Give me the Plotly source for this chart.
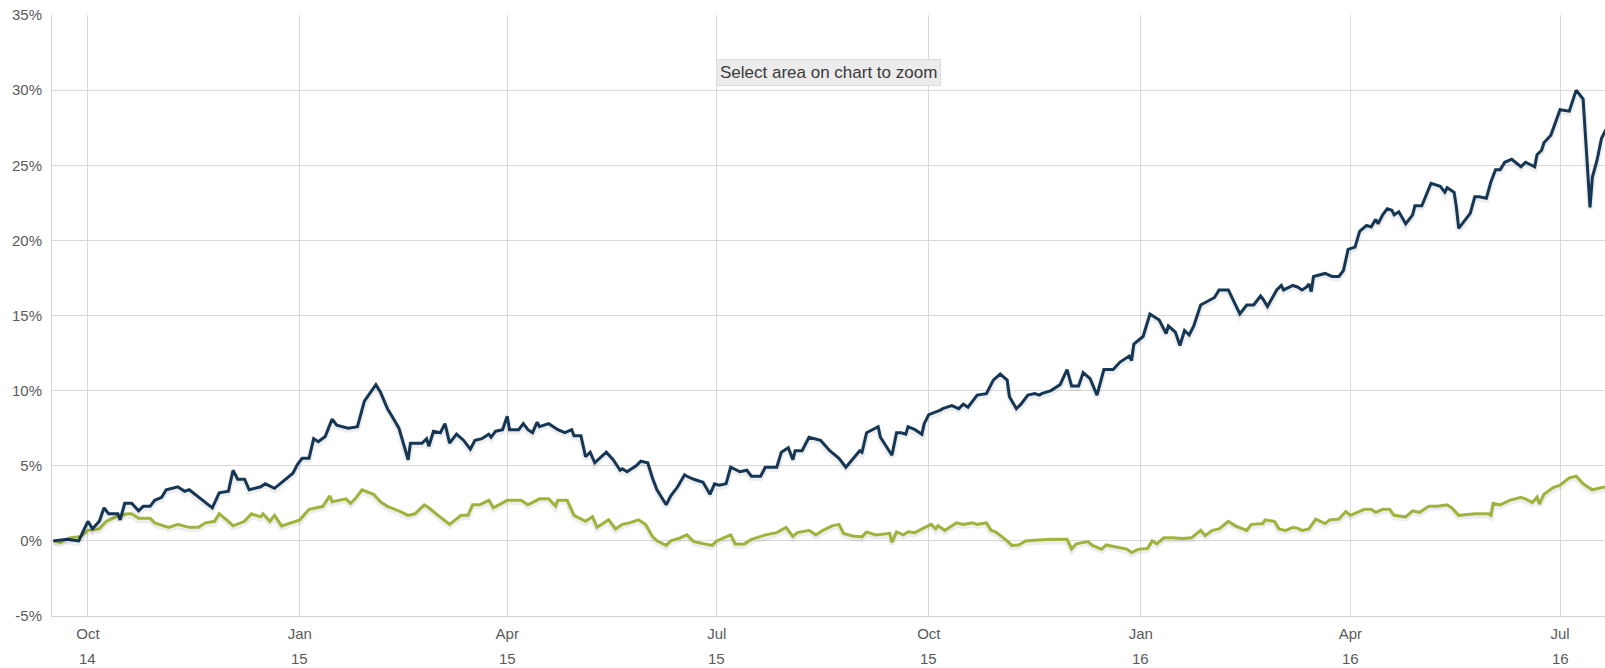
import plotly.graph_objects as go

# ---------------- data ----------------
navy_dates = [
    "2014-09-16", "2014-09-22", "2014-09-27", "2014-10-01", "2014-10-03", "2014-10-06", "2014-10-08",
    "2014-10-10", "2014-10-14", "2014-10-15", "2014-10-17", "2014-10-20", "2014-10-23", "2014-10-25",
    "2014-10-28", "2014-10-30", "2014-11-02", "2014-11-04", "2014-11-09", "2014-11-12", "2014-11-14",
    "2014-11-18", "2014-11-24", "2014-11-27", "2014-12-01", "2014-12-03", "2014-12-05", "2014-12-08",
    "2014-12-10", "2014-12-15", "2014-12-17", "2014-12-21", "2014-12-25", "2014-12-29", "2014-12-31",
    "2015-01-02", "2015-01-05", "2015-01-07", "2015-01-09", "2015-01-12", "2015-01-15", "2015-01-17",
    "2015-01-22", "2015-01-26", "2015-01-29", "2015-02-03", "2015-02-05", "2015-02-08", "2015-02-10",
    "2015-02-13", "2015-02-17", "2015-02-18", "2015-02-23", "2015-02-25", "2015-02-26", "2015-02-28",
    "2015-03-03", "2015-03-05", "2015-03-07", "2015-03-10", "2015-03-13", "2015-03-16", "2015-03-18",
    "2015-03-21", "2015-03-24", "2015-03-25", "2015-03-27", "2015-03-30", "2015-04-01", "2015-04-02",
    "2015-04-06", "2015-04-08", "2015-04-10", "2015-04-12", "2015-04-14", "2015-04-15", "2015-04-19",
    "2015-04-23", "2015-04-26", "2015-04-29", "2015-04-30", "2015-05-03", "2015-05-05", "2015-05-07",
    "2015-05-09", "2015-05-14", "2015-05-17", "2015-05-20", "2015-05-21", "2015-05-23", "2015-05-27",
    "2015-05-29", "2015-06-01", "2015-06-03", "2015-06-05", "2015-06-09", "2015-06-11", "2015-06-14",
    "2015-06-17", "2015-06-18", "2015-06-21", "2015-06-25", "2015-06-28", "2015-06-30", "2015-07-02",
    "2015-07-05", "2015-07-07", "2015-07-11", "2015-07-14", "2015-07-16", "2015-07-20", "2015-07-22",
    "2015-07-27", "2015-07-29", "2015-08-01", "2015-08-03", "2015-08-04", "2015-08-07", "2015-08-10",
    "2015-08-15", "2015-08-19", "2015-08-23", "2015-08-26", "2015-08-30", "2015-09-01", "2015-09-02",
    "2015-09-04", "2015-09-09", "2015-09-10", "2015-09-15", "2015-09-17", "2015-09-19", "2015-09-21",
    "2015-09-22", "2015-09-25", "2015-09-28", "2015-09-29", "2015-10-01", "2015-10-05", "2015-10-06",
    "2015-10-07", "2015-10-11", "2015-10-14", "2015-10-16", "2015-10-18", "2015-10-22", "2015-10-26",
    "2015-10-29", "2015-11-01", "2015-11-04", "2015-11-05", "2015-11-08", "2015-11-10", "2015-11-13",
    "2015-11-16", "2015-11-18", "2015-11-19", "2015-11-23", "2015-11-27", "2015-11-30", "2015-12-02",
    "2015-12-05", "2015-12-07", "2015-12-10", "2015-12-13", "2015-12-16", "2015-12-20", "2015-12-23",
    "2015-12-27", "2015-12-28", "2015-12-29", "2016-01-02", "2016-01-05", "2016-01-09", "2016-01-12",
    "2016-01-13", "2016-01-16", "2016-01-18", "2016-01-20", "2016-01-22", "2016-01-24", "2016-01-27",
    "2016-02-02", "2016-02-04", "2016-02-08", "2016-02-11", "2016-02-13", "2016-02-16", "2016-02-19",
    "2016-02-22", "2016-02-23", "2016-02-25", "2016-02-29", "2016-03-02", "2016-03-03", "2016-03-07",
    "2016-03-09", "2016-03-11", "2016-03-13", "2016-03-14", "2016-03-15", "2016-03-16", "2016-03-18",
    "2016-03-21", "2016-03-24", "2016-03-27", "2016-03-29", "2016-03-31", "2016-04-03", "2016-04-05",
    "2016-04-08", "2016-04-10", "2016-04-12", "2016-04-13", "2016-04-15", "2016-04-17", "2016-04-19",
    "2016-04-20", "2016-04-22", "2016-04-25", "2016-04-28", "2016-04-29", "2016-05-02", "2016-05-06",
    "2016-05-10", "2016-05-12", "2016-05-13", "2016-05-16", "2016-05-17", "2016-05-18", "2016-05-20",
    "2016-05-23", "2016-05-25", "2016-05-27", "2016-05-30", "2016-06-01", "2016-06-03", "2016-06-05",
    "2016-06-07", "2016-06-10", "2016-06-14", "2016-06-16", "2016-06-20", "2016-06-21", "2016-06-23",
    "2016-06-24", "2016-06-27", "2016-07-01", "2016-07-05", "2016-07-08", "2016-07-11", "2016-07-14",
    "2016-07-15", "2016-07-17", "2016-07-19", "2016-07-21",
]
navy_values = [
    0.0, 0.1, 0.0, 1.3, 0.8, 1.3, 2.2,
    1.8, 1.8, 1.4, 2.5, 2.5, 2.0, 2.3,
    2.3, 2.7, 2.9, 3.4, 3.6, 3.3, 3.4,
    2.9, 2.2, 3.2, 3.3, 4.7, 4.1, 4.1,
    3.4, 3.6, 3.8, 3.5, 4.0, 4.5, 5.1,
    5.5, 5.5, 6.8, 6.6, 6.95, 8.1, 7.7,
    7.5, 7.6, 9.3, 10.4, 9.9, 8.8, 8.3,
    7.5, 5.4, 6.5, 6.5, 6.8, 6.3, 7.3,
    7.2, 7.8, 6.5, 7.1, 6.7, 6.1, 6.7,
    6.8, 7.1, 6.9, 7.3, 7.4, 8.3, 7.4,
    7.4, 7.8, 7.4, 7.2, 7.9, 7.6, 7.8,
    7.4, 7.2, 7.4, 7.0, 7.0, 5.6, 5.9,
    5.2, 5.9, 5.4, 4.7, 4.8, 4.6, 5.0,
    5.3, 5.2, 4.2, 3.4, 2.4, 3.0, 3.6,
    4.4, 4.3, 4.1, 3.9, 3.1, 3.8, 3.7,
    3.8, 4.9, 4.6, 4.7, 4.3, 4.3, 4.9,
    4.9, 5.9, 6.2, 5.4, 6.0, 6.0, 6.9,
    6.7, 6.0, 5.5, 4.9, 5.6, 6.0, 5.9,
    7.2, 7.6, 6.9, 5.7, 7.2, 7.2, 7.1,
    7.6, 7.4, 7.1, 7.8, 8.4, 8.6, 8.7,
    8.8, 9.0, 8.8, 9.1, 8.9, 9.7, 9.8,
    10.7, 11.1, 10.7, 9.6, 8.8, 9.1, 9.7,
    9.8, 9.7, 9.8, 10.0, 10.4, 11.4, 10.3,
    10.3, 11.2, 10.8, 9.7, 11.4, 11.4, 11.9,
    12.3, 12.0, 13.1, 13.6, 15.1, 14.7, 13.8,
    14.3, 13.9, 13.0, 14.0, 13.7, 14.3, 15.7,
    16.2, 16.7, 16.7, 15.8, 15.1, 15.7, 15.7,
    16.3, 16.1, 15.6, 16.7, 17.0, 16.7, 17.0,
    16.9, 16.7, 16.9, 17.1, 16.6, 17.6, 17.7,
    17.8, 17.6, 17.6, 18.0, 19.4, 19.55, 20.6,
    21.0, 20.9, 21.4, 21.1, 21.7, 22.1, 22.0,
    21.7, 21.9, 21.1, 21.7, 22.3, 22.3, 23.8,
    23.6, 23.2, 23.5, 23.2, 22.2, 20.8, 21.2,
    21.8, 22.9, 22.9, 22.8, 23.9, 24.7, 24.7,
    25.2, 25.4, 24.9, 25.2, 24.9, 25.7, 26.0,
    26.5, 27.0, 28.7, 28.6, 30.0, 29.4, 22.2,
    24.2, 25.3, 26.8, 27.4,
]

olive_dates = [
    "2014-09-16", "2014-09-19", "2014-09-23", "2014-09-28", "2014-10-01", "2014-10-06", "2014-10-09",
    "2014-10-13", "2014-10-18", "2014-10-20", "2014-10-23", "2014-10-28", "2014-10-30", "2014-11-05",
    "2014-11-09", "2014-11-14", "2014-11-18", "2014-11-21", "2014-11-25", "2014-11-27", "2014-12-01",
    "2014-12-03", "2014-12-08", "2014-12-11", "2014-12-15", "2014-12-16", "2014-12-19", "2014-12-21",
    "2014-12-24", "2014-12-28", "2015-01-01", "2015-01-05", "2015-01-08", "2015-01-11", "2015-01-14",
    "2015-01-15", "2015-01-21", "2015-01-23", "2015-01-25", "2015-01-28", "2015-02-02", "2015-02-05",
    "2015-02-08", "2015-02-13", "2015-02-17", "2015-02-20", "2015-02-24", "2015-02-26", "2015-03-02",
    "2015-03-07", "2015-03-12", "2015-03-15", "2015-03-17", "2015-03-20", "2015-03-24", "2015-03-26",
    "2015-04-01", "2015-04-07", "2015-04-10", "2015-04-15", "2015-04-19", "2015-04-22", "2015-04-23",
    "2015-04-27", "2015-04-30", "2015-05-05", "2015-05-08", "2015-05-10", "2015-05-15", "2015-05-18",
    "2015-05-21", "2015-05-24", "2015-05-28", "2015-05-31", "2015-06-03", "2015-06-05", "2015-06-09",
    "2015-06-11", "2015-06-15", "2015-06-18", "2015-06-21", "2015-06-25", "2015-06-29", "2015-07-01",
    "2015-07-07", "2015-07-09", "2015-07-13", "2015-07-16", "2015-07-22", "2015-07-27", "2015-07-31",
    "2015-08-03", "2015-08-05", "2015-08-10", "2015-08-13", "2015-08-16", "2015-08-20", "2015-08-23",
    "2015-08-25", "2015-08-29", "2015-09-02", "2015-09-04", "2015-09-08", "2015-09-14", "2015-09-15",
    "2015-09-17", "2015-09-20", "2015-09-22", "2015-09-25", "2015-09-28", "2015-10-02", "2015-10-04",
    "2015-10-05", "2015-10-08", "2015-10-13", "2015-10-16", "2015-10-20", "2015-10-22", "2015-10-26",
    "2015-10-28", "2015-10-30", "2015-11-04", "2015-11-06", "2015-11-09", "2015-11-12", "2015-11-17",
    "2015-11-23", "2015-11-30", "2015-12-02", "2015-12-04", "2015-12-09", "2015-12-11", "2015-12-15",
    "2015-12-17", "2015-12-21", "2015-12-26", "2015-12-28", "2015-12-31", "2016-01-04", "2016-01-06",
    "2016-01-08", "2016-01-11", "2016-01-15", "2016-01-19", "2016-01-23", "2016-01-27", "2016-01-29",
    "2016-02-01", "2016-02-04", "2016-02-08", "2016-02-11", "2016-02-13", "2016-02-16", "2016-02-18",
    "2016-02-23", "2016-02-24", "2016-02-28", "2016-03-01", "2016-03-04", "2016-03-07", "2016-03-09",
    "2016-03-11", "2016-03-14", "2016-03-17", "2016-03-21", "2016-03-23", "2016-03-27", "2016-03-30",
    "2016-04-01", "2016-04-07", "2016-04-10", "2016-04-12", "2016-04-15", "2016-04-18", "2016-04-20",
    "2016-04-25", "2016-04-28", "2016-05-01", "2016-05-05", "2016-05-09", "2016-05-13", "2016-05-15",
    "2016-05-18", "2016-05-25", "2016-05-31", "2016-06-01", "2016-06-02", "2016-06-05", "2016-06-09",
    "2016-06-14", "2016-06-16", "2016-06-19", "2016-06-21", "2016-06-22", "2016-06-24", "2016-06-28",
    "2016-07-01", "2016-07-05", "2016-07-08", "2016-07-11", "2016-07-15", "2016-07-19", "2016-07-21",
]
olive_values = [
    0.0, -0.1, 0.2, 0.3, 0.7, 0.8, 1.3,
    1.6, 1.8, 1.8, 1.5, 1.5, 1.2, 0.9,
    1.1, 0.9, 0.9, 1.2, 1.3, 1.8, 1.3,
    1.0, 1.3, 1.8, 1.6, 1.8, 1.3, 1.7,
    1.0, 1.2, 1.4, 2.1, 2.2, 2.3, 3.0,
    2.6, 2.8, 2.5, 2.8, 3.4, 3.1, 2.6,
    2.3, 2.0, 1.7, 1.8, 2.4, 2.2, 1.7,
    1.1, 1.7, 1.7, 2.4, 2.4, 2.7, 2.2,
    2.7, 2.7, 2.4, 2.8, 2.8, 2.3, 2.7,
    2.7, 1.7, 1.3, 1.6, 0.9, 1.4, 0.8,
    1.1, 1.2, 1.4, 1.1, 0.3, 0.0, -0.3,
    0.0, 0.2, 0.4, -0.05, -0.2, -0.3, 0.0,
    0.4, -0.2, -0.2, 0.1, 0.4, 0.55, 0.9,
    0.3, 0.55, 0.7, 0.4, 0.7, 1.0, 1.1,
    0.5, 0.33, 0.27, 0.6, 0.4, 0.5, -0.1,
    0.6, 0.4, 0.6, 0.55, 0.8, 1.1, 0.8,
    1.0, 0.7, 1.2, 1.1, 1.2, 1.1, 1.2,
    0.7, 0.6, 0.0, -0.3, -0.27, 0.0, 0.05,
    0.1, 0.1, -0.55, -0.2, -0.05, -0.3, -0.55,
    -0.27, -0.4, -0.55, -0.78, -0.55, -0.5, 0.0,
    -0.2, 0.2, 0.2, 0.15, 0.2, 0.7, 0.35,
    0.7, 0.8, 1.3, 1.0, 0.9, 0.7, 1.1,
    1.15, 1.4, 1.3, 0.8, 0.7, 0.9, 0.85,
    0.7, 0.8, 1.45, 1.15, 1.4, 1.45, 1.95,
    1.7, 2.1, 2.1, 1.9, 2.1, 2.1, 1.7,
    1.6, 2.0, 1.9, 2.3, 2.3, 2.4, 2.2,
    1.7, 1.8, 1.8, 1.7, 2.5, 2.4, 2.7,
    2.9, 2.8, 2.55, 2.9, 2.45, 3.1, 3.55,
    3.7, 4.2, 4.3, 3.8, 3.4, 3.55, 3.6,
]

tick_dates = ["2014-10-01", "2015-01-01", "2015-04-01", "2015-07-01",
              "2015-10-01", "2016-01-01", "2016-04-01", "2016-07-01"]
tick_months = ["Oct", "Jan", "Apr", "Jul", "Oct", "Jan", "Apr", "Jul"]
tick_years = ["14", "15", "15", "15", "15", "16", "16", "16"]

y_ticks = [-5, 0, 5, 10, 15, 20, 25, 30, 35]
y_tick_labels = ["-5%", "0%", "5%", "10%", "15%", "20%", "25%", "30%", "35%"]

NAVY = "#173b5c"
OLIVE = "#aac141"
FONT = "Liberation Sans, Arial, sans-serif"
LABEL = "#5a5a5a"

fig = go.Figure()

# soft drop shadows (drawn on a slightly offset overlay axis)
for xs, ys in ((olive_dates, olive_values), (navy_dates, navy_values)):
    fig.add_trace(go.Scatter(x=xs, y=ys, mode="lines", yaxis="y2",
                             line=dict(color="rgba(0,0,0,0.07)", width=6),
                             hoverinfo="skip", showlegend=False))

fig.add_trace(go.Scatter(x=olive_dates, y=olive_values, mode="lines",
                         line=dict(color=OLIVE, width=3), showlegend=False))
fig.add_trace(go.Scatter(x=navy_dates, y=navy_values, mode="lines",
                         line=dict(color=NAVY, width=3), showlegend=False))

shift = 0.12
fig.update_layout(
    width=1605, height=668,
    margin=dict(l=52, r=0, t=15, b=52),
    paper_bgcolor="white", plot_bgcolor="white",
    font=dict(family=FONT, size=15, color=LABEL),
    showlegend=False,
    xaxis=dict(
        range=["2014-09-15 10:00", "2016-07-20 12:00"],
        tickvals=tick_dates, ticktext=tick_months,
        showgrid=True, gridcolor="#d9d9d9", gridwidth=1,
        showline=True, linecolor="#d0d0d0", linewidth=1,
        ticks="", zeroline=False, ticklabelstandoff=4,
        tickfont=dict(family=FONT, size=15, color=LABEL),
    ),
    yaxis=dict(
        range=[-5, 35], tickvals=y_ticks, ticktext=y_tick_labels,
        showgrid=True, gridcolor="#d9d9d9", gridwidth=1,
        showline=True, linecolor="#d0d0d0", linewidth=1,
        ticks="", zeroline=False, ticklabelstandoff=6,
        tickfont=dict(family=FONT, size=15, color=LABEL),
    ),
    yaxis2=dict(range=[-5 + shift, 35 + shift], overlaying="y", visible=False),
)

for d, yr in zip(tick_dates, tick_years):
    fig.add_annotation(x=d, xref="x", y=0, yref="paper", yanchor="middle",
                       yshift=-42, text=yr, showarrow=False, borderpad=0,
                       font=dict(family=FONT, size=15, color=LABEL))

fig.add_annotation(x=0.5, xref="paper", y=0.905, yref="paper", yanchor="middle",
                   text="Select area on chart to zoom", showarrow=False,
                   bgcolor="#ececec", bordercolor="#dcdcdc", borderwidth=1,
                   borderpad=3, font=dict(family=FONT, size=17, color="#3a3a3a"))

fig.write_html("out.html", config={"displayModeBar": False},
               post_script="document.body.style.margin='0';")
